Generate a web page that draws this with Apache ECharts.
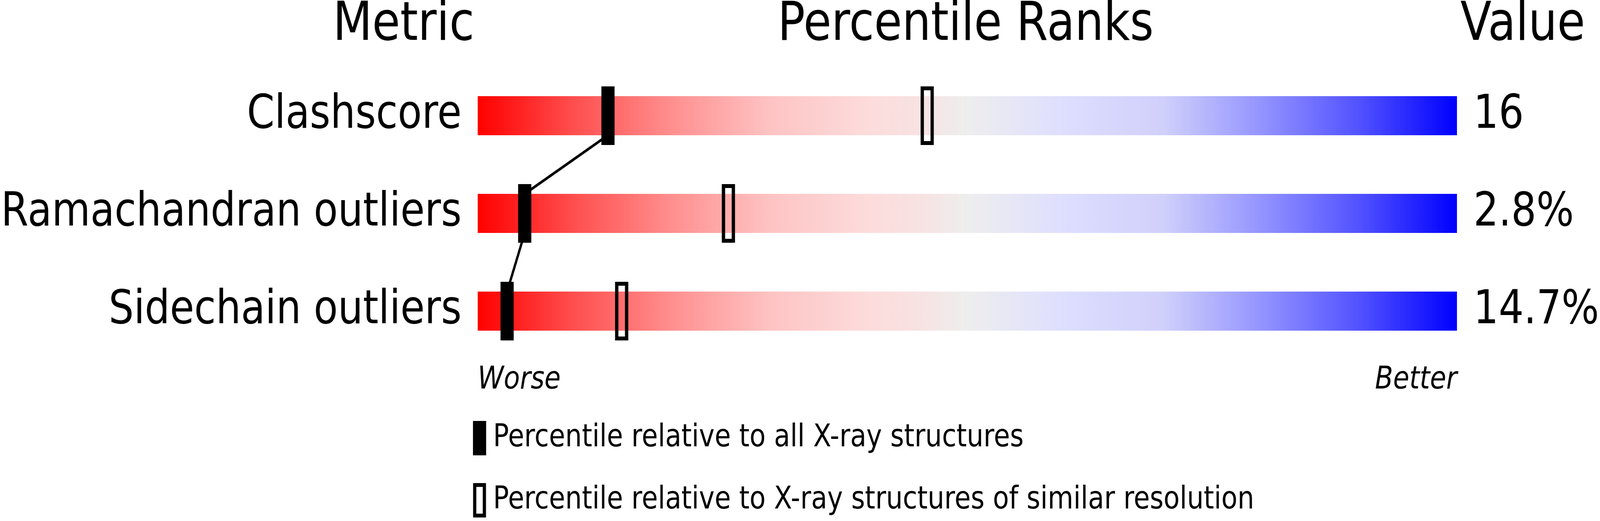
<!DOCTYPE html>
<html lang="en">
<head>
    <meta charset="UTF-8">
    <title>percentile ranks</title>
    <script src="https://cdn.jsdelivr.net/npm/echarts@6/dist/echarts.min.js"></script>
    <style>
        html, body { margin: 0; padding: 0; width: 100%; height: 100%; background: #fff; overflow: hidden; }
        #main { position: absolute; left: 0; top: 0; width: 4858px; height: 1333px; transform-origin: 0 0; }
    </style>
</head>
<body>
<div id="main"></div>
<script type="text/javascript">
    // data
    var metrics = ['Clashscore', 'Ramachandran outliers', 'Sidechain outliers'];
    var valueLabels = ['16', '2.8%', '14.7%'];
    var pctAll = [13.3, 4.8, 3.0];          // percentile vs all X-ray structures
    var pctSimilar = [45.9, 25.6, 14.7];    // percentile vs similar resolution
    var endLabels = ['Worse', 'Better'];
    var headers = ['Metric', 'Percentile Ranks', 'Value'];
    var legendNames = ['Percentile relative to all X-ray structures',
        'Percentile relative to X-ray structures of similar resolution'];

    var FONT = 'DejaVu Sans';
    // layout is written in 4858x1333 units, then fitted to the real window
    var dom = document.getElementById('main');
    var sx = window.innerWidth / 4858;
    var sy = window.innerHeight / 1333;
    dom.style.transform = 'scale(' + sx + ',' + sy + ')';
    var chart = echarts.init(dom, null, {
        renderer: 'canvas',
        devicePixelRatio: (window.devicePixelRatio || 1) * Math.max(sx, sy)
    });

    var barGradient = [
        {offset: 0, color: '#ff0000'},
        {offset: 0.1, color: '#ff5050'},
        {offset: 0.2, color: '#ff9090'},
        {offset: 0.3, color: '#fec4c4'},
        {offset: 0.4, color: '#fddcdc'},
        {offset: 0.45, color: '#f8e2e2'},
        {offset: 0.5, color: '#eeeeee'},
        {offset: 0.6, color: '#dedeff'},
        {offset: 0.7, color: '#d0d0fb'},
        {offset: 0.8, color: '#9494ff'},
        {offset: 0.9, color: '#5252ff'},
        {offset: 1, color: '#0000ff'}
    ];

    function markerRender(filled) {
        return function (params, api) {
            var p = api.coord([api.value(0), api.value(1)]);
            var h = api.size([0, 1])[1] * 0.6;
            var w = 40;
            if (filled) {
                return {type: 'rect', shape: {x: p[0] - w / 2, y: p[1] - h / 2, width: w, height: h},
                    style: {fill: '#000'}};
            }
            return {type: 'rect', shape: {x: p[0] - w / 2 + 5, y: p[1] - h / 2 + 5, width: w - 10, height: h - 10},
                style: {fill: 'none', stroke: '#000', lineWidth: 10}};
        };
    }

    var option = {
        animation: false,
        backgroundColor: '#fff',
        grid: {left: 1434, right: 424, top: 171, height: 750, containLabel: false},
        xAxis: {
            type: 'value', min: 0, max: 100, interval: 100,
            axisLine: {show: false}, axisTick: {show: false}, splitLine: {show: false},
            axisLabel: {
                fontFamily: FONT, fontSize: 80, fontStyle: 'italic', color: '#000', margin: 12,
                alignMinLabel: 'left', alignMaxLabel: 'right',
                formatter: function (v) { return v === 0 ? endLabels[0] : (v === 100 ? endLabels[1] : ''); }
            }
        },
        yAxis: [{
            type: 'category', data: metrics, inverse: true,
            axisLine: {show: false}, axisTick: {show: false}, splitLine: {show: false},
            axisLabel: {fontFamily: FONT, fontSize: 120, color: '#000', margin: 49, padding: [34, 0, 0, 0]}
        }, {
            type: 'category', data: valueLabels, inverse: true, position: 'right',
            axisLine: {show: false}, axisTick: {show: false}, splitLine: {show: false},
            axisLabel: {fontFamily: FONT, fontSize: 120, color: '#000', margin: 50, padding: [28, 0, 0, 0]}
        }],
        legend: {
            orient: 'vertical', left: 1431, top: 1072,
            itemWidth: 40, itemHeight: 88, itemGap: 71,
            selectedMode: false,
            textStyle: {fontFamily: FONT, fontSize: 80, color: '#000', padding: [32, 0, 0, 16]},
            data: [
                {name: legendNames[0], icon: 'rect', itemStyle: {color: '#000'}},
                {name: legendNames[1], icon: 'path://M0,0H40V90H0Z M10,10V80H30V10Z', itemStyle: {color: '#000'}}
            ]
        },
        graphic: [
            {type: 'text', x: 1440, y: 66, style: {text: headers[0], fontFamily: FONT, fontSize: 138, fill: '#000', align: 'right', verticalAlign: 'middle'}},
            {type: 'text', x: 2932, y: 66, style: {text: headers[1], fontFamily: FONT, fontSize: 138, fill: '#000', align: 'center', verticalAlign: 'middle'}},
            {type: 'text', x: 4434, y: 66, style: {text: headers[2], fontFamily: FONT, fontSize: 138, fill: '#000', align: 'left', verticalAlign: 'middle'}}
        ],
        series: [
            {
                name: 'bars', type: 'custom', silent: true, z: 1,
                data: metrics.map(function (m, i) { return [0, i, 100]; }),
                encode: {x: [0, 2], y: 1},
                renderItem: function (params, api) {
                    var a = api.coord([api.value(0), api.value(1)]);
                    var b = api.coord([api.value(2), api.value(1)]);
                    var h = api.size([0, 1])[1] * 0.4;
                    return {
                        type: 'rect',
                        shape: {x: a[0], y: a[1] - h / 2, width: b[0] - a[0], height: h},
                        style: {fill: new echarts.graphic.LinearGradient(0, 0, 1, 0, barGradient)}
                    };
                }
            },
            {
                name: 'links', type: 'custom', silent: true, z: 2,
                data: pctAll.slice(0, -1).map(function (v, i) { return [v, i, pctAll[i + 1], i + 1]; }),
                encode: {x: [0, 2], y: [1, 3]},
                renderItem: function (params, api) {
                    var a = api.coord([api.value(0), api.value(1)]);
                    var b = api.coord([api.value(2), api.value(3)]);
                    var half = api.size([0, 1])[1] * 0.2;
                    return {
                        type: 'line',
                        shape: {x1: a[0], y1: a[1] + half, x2: b[0], y2: b[1] - half},
                        style: {stroke: '#000', lineWidth: 7}
                    };
                }
            },
            {
                name: legendNames[1], type: 'custom', z: 3,
                itemStyle: {color: '#000'},
                data: pctSimilar.map(function (v, i) { return [v, i]; }),
                renderItem: markerRender(false)
            },
            {
                name: legendNames[0], type: 'custom', z: 4,
                itemStyle: {color: '#000'},
                data: pctAll.map(function (v, i) { return [v, i]; }),
                renderItem: markerRender(true)
            }
        ]
    };
    chart.setOption(option);
</script>
</body>
</html>
